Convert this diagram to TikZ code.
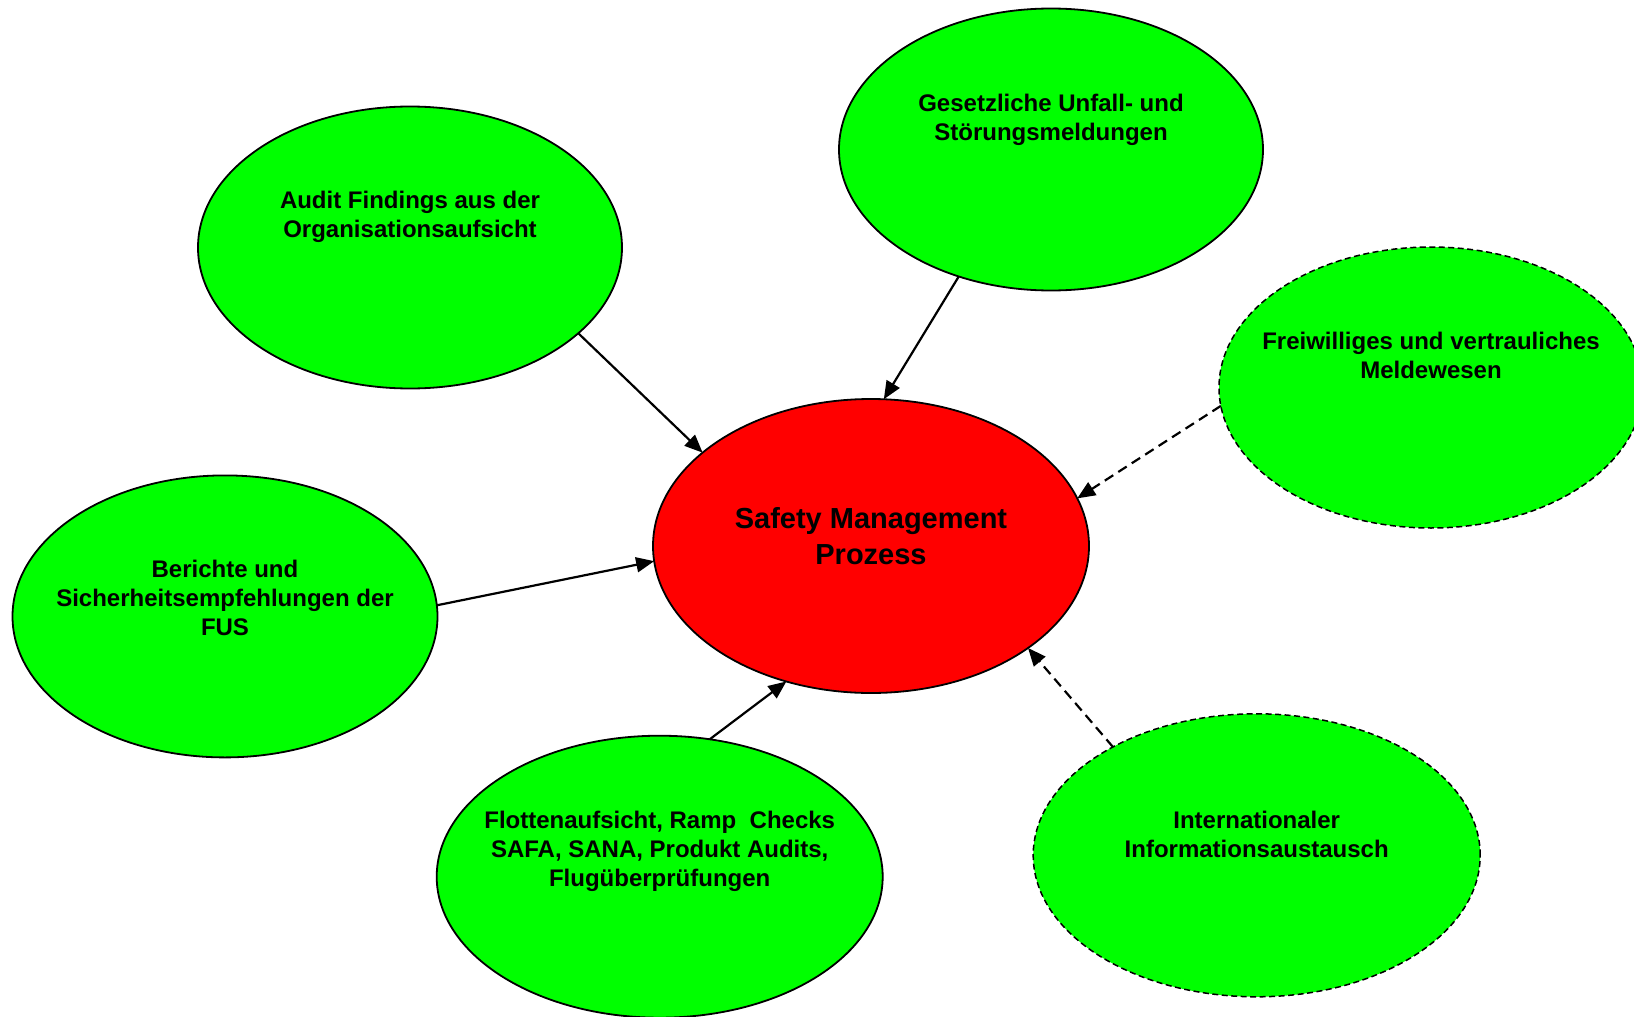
\documentclass[tikz,border=0pt]{standalone}
\usepackage{fontspec}
\setmainfont{Liberation Sans}
\usetikzlibrary{arrows.meta,shapes.geometric}
\definecolor{srcgreen}{RGB}{0,255,0}
\definecolor{hubred}{RGB}{255,0,0}
\tikzset{
  bubble/.style={ellipse, draw=black, line width=1.8pt, fill=srcgreen,
    inner sep=0pt, outer sep=0pt},
  optbubble/.style={bubble, line width=1.5pt, dash pattern=on 6pt off 3.5pt},
  hub/.style={bubble, fill=hubred},
  srctext/.style={anchor=north, align=center, inner sep=0pt,
    font=\fontsize{24}{29}\selectfont\bfseries},
  hubtext/.style={anchor=north, align=center, inner sep=0pt,
    font=\fontsize{29}{35.5}\selectfont\bfseries},
  feed/.style={line width=2.2pt, -{Triangle[length=18pt,width=15pt]}},
  optfeed/.style={feed, dash pattern=on 10pt off 6pt}
}
\begin{document}
\begin{tikzpicture}[x=1pt,y=-1pt]
\useasboundingbox (0,0) rectangle (1634,1017);
\clip (0,0) rectangle (1634,1017);
\fill[white] (0,0) rectangle (1634,1017);

% central process
\node[hub, minimum width=436pt, minimum height=294pt] (sms) at (871,546) {};
\node[hubtext] (smsT) at (871,507.7) {Safety Management\\Prozess};

% information sources
\node[bubble, minimum width=424pt, minimum height=282pt] (audit) at (410,247.5) {};
\node[srctext] (auditT) at (410,191) {Audit Findings aus der\\Organisationsaufsicht};

\node[bubble, minimum width=424pt, minimum height=282pt] (gesetz) at (1051,149.5) {};
\node[srctext] (gesetzT) at (1051,94) {Gesetzliche Unfall- und\\Störungsmeldungen};

\node[optbubble, minimum width=424pt, minimum height=281pt] (frei) at (1431,387.5) {};
\node[srctext] (freiT) at (1431,331.7) {Freiwilliges und vertrauliches\\Meldewesen};

\node[bubble, minimum width=425pt, minimum height=282pt] (fus) at (225,616.4) {};
\node[srctext] (fusT) at (225,560) {Berichte und\\Sicherheitsempfehlungen der\\FUS};

\node[bubble, minimum width=446pt, minimum height=282pt] (flotte) at (659.7,876.7) {};
\node[srctext] (flotteT) at (659.7,811) {Flottenaufsicht, Ramp~~Checks\\SAFA, SANA, Produkt Audits,\\Flugüberprüfungen};

\node[optbubble, minimum width=447pt, minimum height=283pt] (intl) at (1256.7,855.3) {};
\node[srctext] (intlT) at (1256.7,810.7) {Internationaler\\Informationsaustausch};

% connectors into the process
\draw[feed] (audit.-27.3) -- (sms.151.3);
\draw[feed] (gesetz.234.5) -- (sms.85.1);
\draw[optfeed] (frei.185.9) -- (sms.13.7);
\draw[feed] (fus.3.2) -- (sms.184.4);
\draw[feed] (flotte.70.9) -- (sms.-122.6);
\draw[optfeed] (intl.143.2) -- (sms.-33.9);
\end{tikzpicture}
\end{document}
